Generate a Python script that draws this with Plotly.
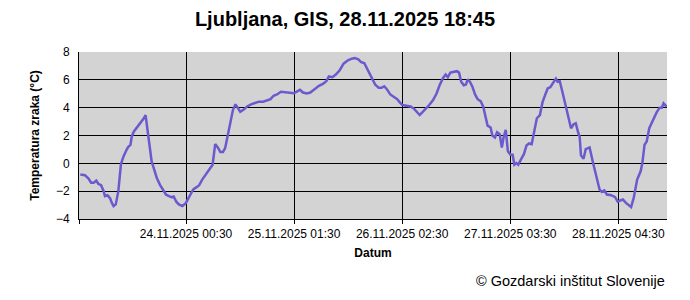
import pandas as pd
import plotly.graph_objects as go

title_text = "Ljubljana, GIS, 28.11.2025 18:45"
start_time = "2025-11-22 23:45"
end_time = "2025-11-28 15:45"

# hours since start_time
hours = [0.3, 1.4, 2.2, 2.8, 3.4, 4.0, 4.5, 5.1, 5.7, 6.0, 6.6, 7.2, 7.6, 8.0, 8.5, 9.1, 9.7,
         10.3, 11.0, 11.4, 11.9, 12.2, 12.7, 13.3, 13.9, 14.5, 15.0, 15.4, 15.9, 16.4, 16.8,
         17.4, 18.0, 18.7, 19.4, 20.1, 20.8, 21.4, 21.9, 22.5, 23.1, 23.9, 24.7, 25.4, 26.4,
         27.2, 27.8, 28.5, 29.3, 30.1, 30.9, 31.5, 32.1, 32.7, 33.3, 33.8, 34.4, 35.0, 35.6,
         36.2, 36.7, 37.3, 38.1, 38.9, 39.8, 40.7, 41.6, 42.6, 43.5, 44.3, 45.0, 45.8, 46.7,
         47.7, 48.7, 49.7, 50.3, 51.1, 51.8, 52.7, 53.5, 54.5, 55.5, 56.4, 57.2, 57.8, 58.6,
         59.4, 60.3, 61.2, 62.2, 63.1, 63.8, 64.6, 65.2, 66.0, 66.8, 67.5, 68.5, 69.3, 70.0,
         70.6, 71.2, 72.0, 72.8, 73.6, 74.2, 74.8, 75.7, 76.7, 77.4, 78.0, 78.8, 79.4, 80.2,
         81.0, 81.9, 82.7, 83.4, 84.2, 84.8, 85.3, 85.9, 86.7, 87.4, 87.9, 88.4, 89.0, 89.5,
         89.9, 90.4, 91.0, 91.6, 92.2, 92.9, 93.5, 93.9, 94.5, 95.2, 95.6, 96.2, 96.7, 97.3,
         97.8, 98.2, 98.7, 99.2, 99.8, 100.3, 100.7, 101.2, 101.6, 102.2, 102.9, 103.5, 104.1,
         104.7, 105.3, 105.9, 106.6, 107.2, 107.8, 108.4, 109.0, 109.6, 110.3, 110.7, 111.2,
         111.8, 112.6, 113.2, 113.8, 114.4, 114.9, 115.5, 115.8, 116.1, 116.7, 117.2, 118.1,
         118.9, 119.7, 120.4, 120.9, 121.5, 122.1, 123.1, 124.0, 124.6, 125.2, 125.8, 126.5,
         127.1, 127.7, 128.3, 129.1, 129.9, 130.3, 130.8, 131.3, 131.9, 132.7, 133.6, 134.3,
         134.8, 135.2, 135.9]

temperature = [-0.81, -0.86, -1.1, -1.39, -1.39, -1.24, -1.48, -1.57, -2.0, -2.36, -2.29, -2.52,
               -2.84, -3.07, -2.95, -2.0, -0.05, 0.5, 0.97, 1.19, 1.33, 1.93, 2.29, 2.52, 2.81,
               3.04, 3.24, 3.47, 2.29, 1.09, 0.14, -0.46, -1.05, -1.53, -1.88, -2.24, -2.36,
               -2.43, -2.38, -2.76, -2.95, -3.07, -2.86, -2.43, -1.88, -1.71, -1.57, -1.17,
               -0.81, -0.46, -0.1, 1.38, 1.14, 0.81, 0.81, 1.09, 1.93, 3.0, 3.83, 4.24, 3.95,
               3.71, 3.86, 4.09, 4.24, 4.31, 4.43, 4.43, 4.52, 4.61, 4.86, 4.95, 5.14, 5.09,
               5.07, 5.04, 5.14, 5.29, 5.09, 5.02, 5.09, 5.33, 5.57, 5.71, 5.9, 6.24, 6.19,
               6.38, 6.69, 7.16, 7.4, 7.52, 7.57, 7.47, 7.29, 7.19, 6.69, 6.21, 5.66, 5.43,
               5.43, 5.54, 5.33, 4.95, 4.76, 4.61, 4.38, 4.19, 4.14, 4.09, 3.95, 3.71, 3.47,
               3.66, 3.9, 4.19, 4.54, 5.02, 5.61, 6.14, 6.38, 6.19, 6.52, 6.57, 6.62, 6.52,
               5.86, 5.61, 5.66, 6.04, 5.86, 5.5, 4.95, 4.61, 4.47, 4.07, 3.47, 2.71, 2.57,
               2.0, 1.86, 2.24, 2.09, 1.14, 1.86, 2.4, 0.86, 0.61, 0.61, -0.1, 0.02, -0.1,
               0.26, 0.66, 1.29, 1.43, 1.38, 2.29, 3.24, 3.47, 4.38, 4.9, 5.38, 5.47, 5.76,
               6.09, 5.86, 5.9, 5.14, 4.14, 3.4, 2.52, 2.81, 2.88, 2.16, 1.93, 0.57, 0.33,
               1.02, 1.14, 0.02, -0.93, -1.88, -2.05, -1.95, -2.24, -2.29, -2.43, -2.76,
               -2.67, -2.6, -2.84, -3.0, -3.14, -2.48, -1.17, -0.57, 0.02, 1.33, 1.57, 2.52,
               3.11, 3.66, 4.0, 4.0, 4.31, 4.07]

tick_labels = ["24.11.2025 00:30", "25.11.2025 01:30", "26.11.2025 02:30",
               "27.11.2025 03:30", "28.11.2025 04:30"]
y_ticks = [-4, -2, 0, 2, 4, 6, 8]

t0 = pd.Timestamp(start_time)
times = [t0 + pd.Timedelta(hours=h) for h in hours]
tick_dates = [pd.to_datetime(s, format="%d.%m.%Y %H:%M") for s in tick_labels]
tickvals = [t0] + tick_dates
ticktext = [""] + tick_labels

font_main = "Liberation Sans, Arial, sans-serif"
font_tick = "Liberation Sans Narrow, Arial Narrow, Liberation Sans, Arial, sans-serif"

fig = go.Figure()
fig.add_trace(go.Scatter(x=times, y=temperature, mode="lines",
                         line=dict(color="#6a5acd", width=2.5), showlegend=False))

fig.update_layout(
    width=690, height=300,
    margin=dict(l=79, r=23, t=52, b=81, autoexpand=False),
    paper_bgcolor="white", plot_bgcolor="#d3d3d3",
    title=dict(text="<b>" + title_text + "</b>", x=0.5, xanchor="center",
               y=1 - 19 / 300, yanchor="middle", yref="container",
               font=dict(family=font_main, size=20, color="black")),
    font=dict(family=font_main, color="black"),
)
fig.update_xaxes(
    type="date", range=[t0, pd.Timestamp(end_time)],
    tickmode="array", tickvals=tickvals, ticktext=ticktext,
    ticks="outside", ticklen=4, tickcolor="black", tickwidth=1,
    showgrid=True, gridcolor="black", gridwidth=1,
    showline=True, linecolor="black", linewidth=1,
    tickfont=dict(family=font_tick, size=12, color="black"),
    title=dict(text="<b>Datum</b>", font=dict(family=font_main, size=12, color="black"),
               standoff=8),
    zeroline=False,
)
fig.update_yaxes(
    range=[-4, 8], tickmode="array", tickvals=y_ticks,
    ticks="", showgrid=True, gridcolor="black", gridwidth=1,
    showline=True, linecolor="black", linewidth=1,
    tickfont=dict(family=font_main, size=12, color="black"),
    ticklabelstandoff=6,
    title=dict(text="<b>Temperatura zraka (°C)</b>",
               font=dict(family=font_main, size=12, color="black"), standoff=13),
    zeroline=False,
)
plot_h = 300 - 52 - 81
fig.add_annotation(text="© Gozdarski inštitut Slovenije", xref="paper", yref="paper",
                   x=1, y=(219 - 281) / plot_h, xanchor="right",
                   yanchor="middle", showarrow=False,
                   font=dict(family=font_main, size=14.5, color="black"))
fig.write_html("out.html")
